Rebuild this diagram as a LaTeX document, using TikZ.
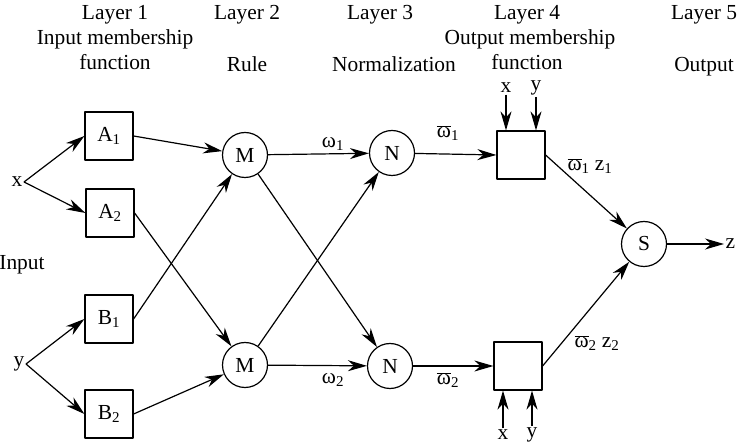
\documentclass[tikz,border=0pt]{standalone}
\usepackage{fontspec}
\setmainfont{Liberation Serif}
\usetikzlibrary{arrows.meta}
\newcommand{\wbar}[1]{$\overline{\mbox{ω}}$\textsubscript{#1}}
\begin{document}
\begin{tikzpicture}[>={Stealth[length=19bp,width=11bp,inset=6bp]},line join=bevel,
  every node/.style={font=\fontsize{21.5}{25}\selectfont},
  mfbox/.style={draw,rectangle,minimum size=48bp,inner sep=0pt},
  opnode/.style={draw,circle,minimum size=45bp,inner sep=0pt},
  lbl/.style={inner sep=1bp},
  hdr/.style={anchor=base,inner sep=0pt}]
  \pgfsetlinewidth{1.2bp}
  \useasboundingbox (0bp,0bp) rectangle (738bp,444bp);
%%
  % Headers
  \node[hdr] (h1) at (115bp,424bp) {Layer 1};
  \node[hdr] (h1a) at (115bp,399bp) {Input membership};
  \node[hdr] (h1b) at (115bp,374bp) {function};
  \node[hdr] (h2) at (247bp,424bp) {Layer 2};
  \node[hdr] (h2b) at (247bp,372bp) {Rule};
  \node[hdr] (h3) at (380bp,424bp) {Layer 3};
  \node[hdr] (h3b) at (394bp,372bp) {Normalization};
  \node[hdr] (h4) at (527bp,424bp) {Layer 4};
  \node[hdr] (h4a) at (530bp,399bp) {Output membership};
  \node[hdr] (h4b) at (527bp,374bp) {function};
  \node[hdr] (h5) at (704bp,424bp) {Layer 5};
  \node[hdr] (h5b) at (704bp,372bp) {Output};
  % Node: inputs
  \coordinate (xs) at (24bp,262bp);
  \node[lbl,anchor=east] (x) at (xs) {x};
  \coordinate (ys) at (26bp,80bp);
  \node[lbl,anchor=east] (y) at (ys) {y};
  \node[lbl] (input) at (22bp,179bp) {Input};
  % Node: layer 1
  \node[mfbox] (A1) at (109bp,308bp) {A\textsubscript{1}};
  \node[mfbox] (A2) at (110bp,231bp) {A\textsubscript{2}};
  \node[mfbox] (B1) at (109bp,125bp) {B\textsubscript{1}};
  \node[mfbox] (B2) at (109bp,30bp) {B\textsubscript{2}};
  % Node: layer 2
  \node[opnode] (M1) at (245bp,289bp) {M};
  \node[opnode] (M2) at (245bp,79bp) {M};
  % Node: layer 3
  \node[opnode] (N1) at (392bp,291bp) {N};
  \node[opnode] (N2) at (390bp,78bp) {N};
  % Node: layer 4
  \node[mfbox] (F1) at (521bp,289bp) {};
  \node[mfbox] (F2) at (518bp,78bp) {};
  \node[lbl] (fx1) at (506bp,356bp) {x};
  \node[lbl] (fy1) at (536bp,356bp) {y};
  \node[lbl] (fx2) at (503bp,9bp) {x};
  \node[lbl] (fy2) at (532bp,9bp) {y};
  % Node: layer 5
  \node[opnode] (S) at (644bp,200bp) {S};
  \node[lbl,anchor=west] (z) at (724bp,200bp) {z};
%
  % Edge: x -> A1, A2
  \draw [->] (xs) -- (A1.west);
  \draw [->] (xs) -- (A2.west);
  % Edge: y -> B1, B2
  \draw [->] (ys) -- (B1.west);
  \draw [->] (ys) -- (B2.west);
  % Edge: layer 1 -> layer 2
  \draw [->] (A1.east) -- (M1);
  \draw [->] (A2.east) -- (M2);
  \draw [->] (B1.east) -- (M1);
  \draw [->] (B2.east) -- (M2);
  % Edge: layer 2 -> layer 3
  \draw [->] (M1) -- (N1);
  \draw [->] (M1) -- (N2);
  \draw [->] (M2) -- (N1);
  \draw [->] (M2) -- (N2);
  \node[lbl] (w1) at (333bp,300bp) {ω\textsubscript{1}};
  \node[lbl] (w2) at (333bp,64bp) {ω\textsubscript{2}};
  % Edge: layer 3 -> layer 4
  \draw [->] (N1) -- (F1.west);
  \draw [->] (N2) -- (F2.west);
  \node[lbl] (wb1) at (448bp,311bp) {\wbar{1}};
  \node[lbl] (wb2) at (448bp,64bp) {\wbar{2}};
  \draw [->] (fx1) -- (fx1 |- F1.north);
  \draw [->] (fy1) -- (fy1 |- F1.north);
  \draw [->] (fx2) -- (fx2 |- F2.south);
  \draw [->] (fy2) -- (fy2 |- F2.south);
  % Edge: layer 4 -> layer 5
  \draw [->] (F1.east) -- (S);
  \draw [->] (F2.east) -- (S);
  \node[lbl] (wz1) at (590bp,278bp) {\wbar{1} z\textsubscript{1}};
  \node[lbl] (wz2) at (597bp,101bp) {\wbar{2} z\textsubscript{2}};
  % Edge: S -> z
  \draw [->] (S) -- (z.west);
%
\end{tikzpicture}
\end{document}
